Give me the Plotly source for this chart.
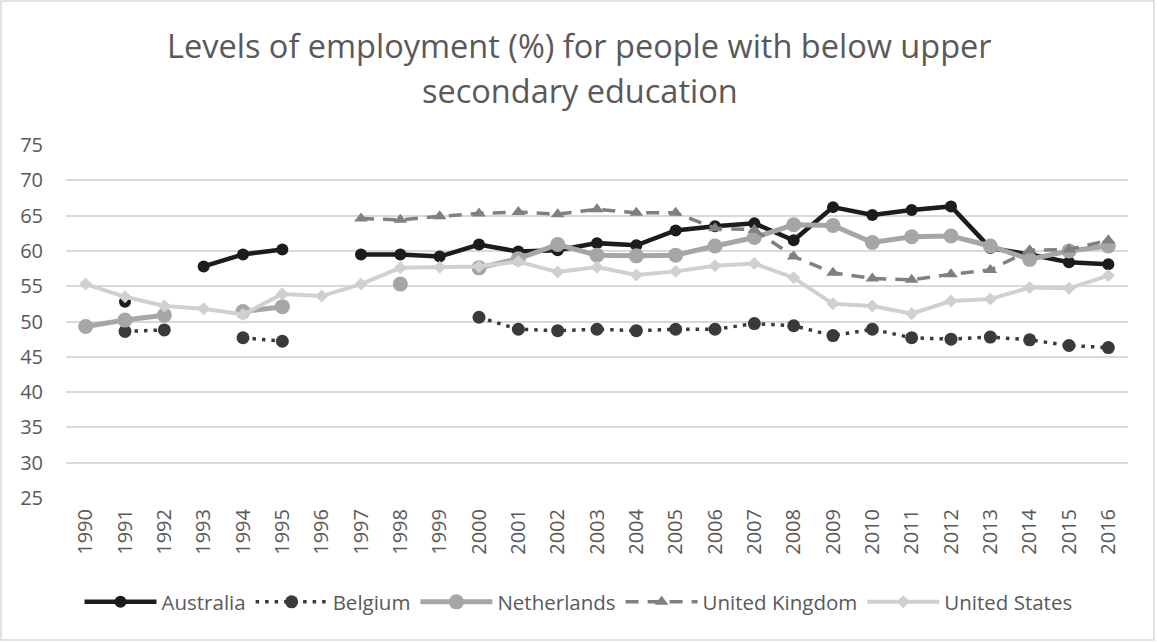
import plotly.graph_objects as go

# Employment levels (%) for people with below upper secondary education
years = [str(y) for y in range(1990, 2017)]

australia = [None, 52.8, None, 57.8, 59.5, 60.2, None, 59.5, 59.5, 59.2,
             60.9, 59.9, 60.1, 61.1, 60.8, 62.9, 63.5, 63.9, 61.5, 66.2,
             65.1, 65.8, 66.3, 60.4, 59.5, 58.4, 58.1]
belgium = [None, 48.6, 48.8, None, 47.7, 47.2, None, None, None, None,
           50.6, 48.9, 48.7, 48.9, 48.7, 48.9, 48.9, 49.7, 49.4, 48.0,
           48.9, 47.7, 47.5, 47.8, 47.4, 46.6, 46.3]
netherlands = [49.3, 50.2, 50.9, None, 51.4, 52.1, None, None, 55.3, None,
               57.6, 58.9, 60.9, 59.4, 59.3, 59.4, 60.7, 61.9, 63.7, 63.6,
               61.2, 62.0, 62.1, 60.7, 58.8, 60.0, 60.7]
united_kingdom = [None, None, None, None, None, None, None, 64.6, 64.4, 64.9,
                  65.3, 65.5, 65.2, 65.9, 65.4, 65.4, 63.2, 63.0, 59.2, 56.9,
                  56.1, 55.9, 56.7, 57.3, 60.1, 60.2, 61.5]
united_states = [55.3, 53.5, 52.2, 51.8, 51.0, 53.9, 53.6, 55.3, 57.6, 57.7,
                 57.8, 58.5, 57.0, 57.7, 56.6, 57.1, 57.9, 58.2, 56.2, 52.5,
                 52.2, 51.1, 52.9, 53.2, 54.8, 54.7, 56.5]

W, H = 1157, 642
M_L, M_R, M_T, M_B = 66, 29, 145, 144
PLOT_W = W - M_L - M_R
PLOT_H = H - M_T - M_B

TEXT = "#595959"
GRID = "#d9d9d9"
FONT = "Open Sans"

fig = go.Figure()

fig.add_trace(go.Scatter(
    x=years, y=australia, name="Australia", mode="lines+markers",
    line=dict(color="#1c1c1c", width=4.5),
    marker=dict(symbol="circle", size=12, color="#1c1c1c"),
))
fig.add_trace(go.Scatter(
    x=years, y=belgium, name="Belgium", mode="lines+markers",
    line=dict(color="#3a3a3a", width=3.5, dash="3.5px,6px"),
    marker=dict(symbol="circle", size=13, color="#3a3a3a"),
))
fig.add_trace(go.Scatter(
    x=years, y=netherlands, name="Netherlands", mode="lines+markers",
    line=dict(color="#a6a6a6", width=5),
    marker=dict(symbol="circle", size=15, color="#a6a6a6"),
))
fig.add_trace(go.Scatter(
    x=years, y=united_kingdom, name="United Kingdom", mode="lines+markers",
    line=dict(color="#808080", width=3.5, dash="13px,9px"),
    marker=dict(symbol="triangle-up", size=12, color="#808080"),
))
fig.add_trace(go.Scatter(
    x=years, y=united_states, name="United States", mode="lines+markers",
    line=dict(color="#d0d0d0", width=4),
    marker=dict(symbol="diamond", size=10, color="#d0d0d0"),
))


def px_to_paper_x(px):
    return (px - M_L) / PLOT_W


def px_to_paper_y(py):
    return (H - M_B - py) / PLOT_H


# Two-line chart title
title_lines = ["Levels of employment (%) for people with below upper",
               "secondary education"]
title_centers = [45, 91]
annotations = [
    dict(text=t, xref="paper", yref="paper",
         x=px_to_paper_x(W / 2 + 1), y=px_to_paper_y(c),
         xanchor="center", yanchor="middle", showarrow=False,
         font=dict(family=FONT, size=32.5, color=TEXT))
    for t, c in zip(title_lines, title_centers)
]

# Light frame around the whole chart
shapes = [dict(type="rect", xref="paper", yref="paper",
               x0=px_to_paper_x(1), x1=px_to_paper_x(W - 3),
               y0=px_to_paper_y(H - 2), y1=px_to_paper_y(1),
               line=dict(color=GRID, width=1.5), layer="below")]

fig.update_layout(
    width=W, height=H,
    margin=dict(l=M_L, r=M_R, t=M_T, b=M_B, autoexpand=False),
    paper_bgcolor="white", plot_bgcolor="white",
    font=dict(family=FONT, size=20, color=TEXT),
    annotations=annotations,
    shapes=shapes,
    showlegend=True,
    legend=dict(orientation="h", xref="container", yref="container",
                x=0.5, xanchor="center", y=(H - 602) / H, yanchor="middle",
                font=dict(family=FONT, size=20.5, color=TEXT),
                itemwidth=72, tracegroupgap=0, bgcolor="rgba(0,0,0,0)"),
)

fig.update_xaxes(
    type="category", categoryorder="array", categoryarray=years,
    range=[-0.5, len(years) - 0.5],
    tickangle=-90, showgrid=False, showline=False, ticks="",
    tickfont=dict(family=FONT, size=20, color=TEXT),
    ticklabelstandoff=6, automargin=False, fixedrange=True,
)
fig.update_yaxes(
    range=[25, 75], dtick=5, tick0=25, showgrid=True, gridcolor=GRID,
    gridwidth=2, zeroline=False, showline=False, ticks="",
    tickfont=dict(family=FONT, size=20, color=TEXT),
    ticklabelstandoff=22, automargin=False, fixedrange=True,
)

fig.write_html("out.html")
